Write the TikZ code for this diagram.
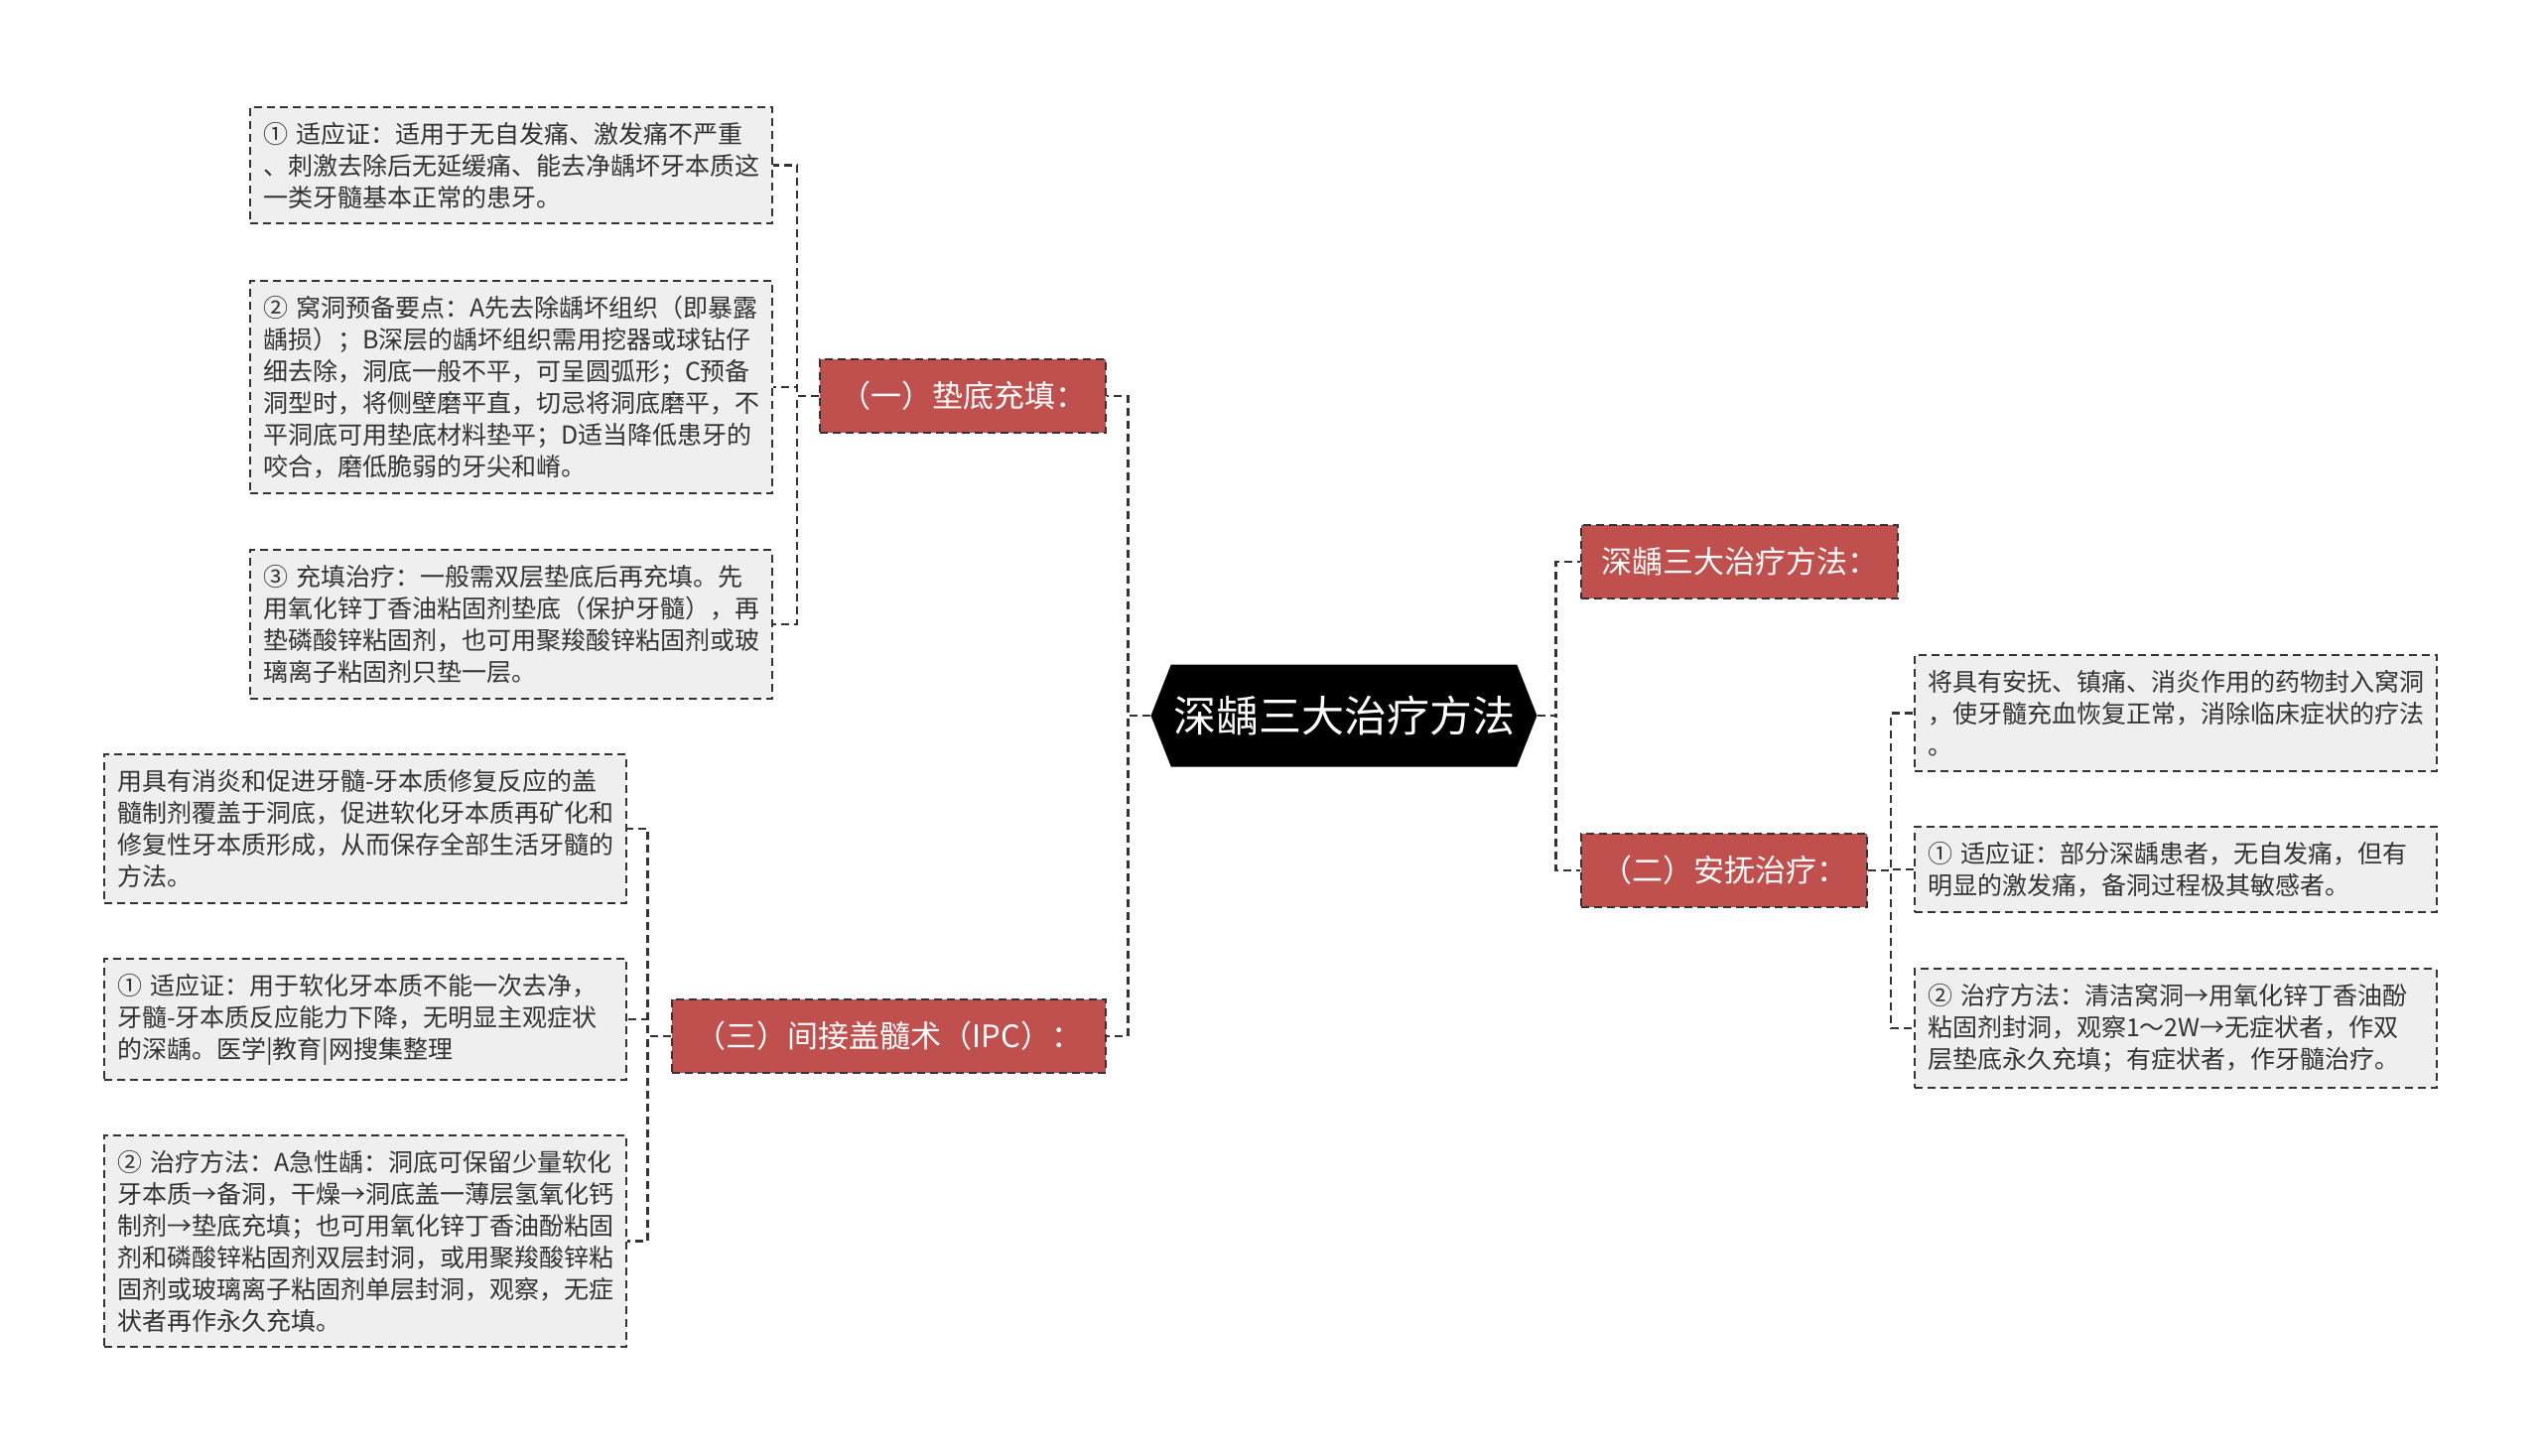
\documentclass[tikz,border=0pt]{standalone}
\usepackage{fontspec}
\setmainfont{Noto Sans CJK SC}
\usetikzlibrary{shapes.symbols}
\definecolor{topicred}{HTML}{C0504D}
\definecolor{leafgray}{HTML}{EFEFEF}
\definecolor{inkgray}{HTML}{333333}
\begin{document}
\begin{tikzpicture}[x=1pt, y=-1pt,
  leaf/.style={draw=inkgray, fill=leafgray, line width=2pt, dash pattern=on 8pt off 5pt,
    text=inkgray, align=left, text width=500pt, inner xsep=13pt, inner ysep=15pt,
    font=\fontsize{25}{32}\selectfont},
  topic/.style={draw=inkgray, fill=topicred, line width=2pt, dash pattern=on 8pt off 5pt,
    text=white, minimum height=74pt, inner xsep=20pt, font=\fontsize{31}{36}\selectfont},
  link/.style={inkgray, line width=2.5pt, dash pattern=on 8pt off 5pt}]
\useasboundingbox (0,0) rectangle (2560,1467);
% centre
\node[signal, signal to=east and west, signal pointer angle=137, fill=black, text=white,
  minimum width=389pt, minimum height=103pt, inner sep=2pt,
  font=\fontsize{43}{50}\selectfont] (root) at (1354,721) {深龋三大治疗方法};
% left: (一) and (三)
\node[topic, anchor=east] (fill) at (1115,399) {（一）垫底充填：};
\node[topic, anchor=east, inner xsep=24pt] (ipc) at (1115,1044) {（三）间接盖髓术（IPC）：};
% right: heading and (二)
\node[topic, anchor=west] (head) at (1592,566) {深龋三大治疗方法：};
\node[topic, anchor=west] (calm) at (1592,877) {（二）安抚治疗：};
% leaves of (一)
\node[leaf, anchor=east] (fill1) at (779,166.5)
  {①~适应证：适用于无自发痛、激发痛不严重\\、刺激去除后无延缓痛、能去净龋坏牙本质这\\一类牙髓基本正常的患牙。};
\node[leaf, anchor=east] (fill2) at (779,390)
  {②~窝洞预备要点：A先去除龋坏组织（即暴露\\龋损）；B深层的龋坏组织需用挖器或球钻仔\\细去除，洞底一般不平，可呈圆弧形；C预备\\洞型时，将侧壁磨平直，切忌将洞底磨平，不\\平洞底可用垫底材料垫平；D适当降低患牙的\\咬合，磨低脆弱的牙尖和嵴。};
\node[leaf, anchor=east] (fill3) at (779,629)
  {③~充填治疗：一般需双层垫底后再充填。先\\用氧化锌丁香油粘固剂垫底（保护牙髓），再\\垫磷酸锌粘固剂，也可用聚羧酸锌粘固剂或玻\\璃离子粘固剂只垫一层。};
% leaves of (三)
\node[leaf, anchor=east] (ipc1) at (632,835)
  {用具有消炎和促进牙髓-牙本质修复反应的盖\\髓制剂覆盖于洞底，促进软化牙本质再矿化和\\修复性牙本质形成，从而保存全部生活牙髓的\\方法。};
\node[leaf, anchor=east] (ipc2) at (632,1027)
  {①~适应证：用于软化牙本质不能一次去净，\\牙髓-牙本质反应能力下降，无明显主观症状\\的深龋。医学|教育|网搜集整理};
\node[leaf, anchor=east] (ipc3) at (632,1250.5)
  {②~治疗方法：A急性龋：洞底可保留少量软化\\牙本质→备洞，干燥→洞底盖一薄层氢氧化钙\\制剂→垫底充填；也可用氧化锌丁香油酚粘固\\剂和磷酸锌粘固剂双层封洞，或用聚羧酸锌粘\\固剂或玻璃离子粘固剂单层封洞，观察，无症\\状者再作永久充填。};
% leaves of (二)
\node[leaf, anchor=west] (calm1) at (1928,718.5)
  {将具有安抚、镇痛、消炎作用的药物封入窝洞\\，使牙髓充血恢复正常，消除临床症状的疗法\\。};
\node[leaf, anchor=west] (calm2) at (1928,876)
  {①~适应证：部分深龋患者，无自发痛，但有\\明显的激发痛，备洞过程极其敏感者。};
\node[leaf, anchor=west] (calm3) at (1928,1036)
  {②~治疗方法：清洁窝洞→用氧化锌丁香油酚\\粘固剂封洞，观察1～2W→无症状者，作双\\层垫底永久充填；有症状者，作牙髓治疗。};
% connectors
\foreach \n in {fill,ipc} \draw[link] (root.west) -- ++(-23,0) |- (\n.east);
\foreach \n in {head,calm} \draw[link] (root.east) -- ++(19,0) |- (\n.west);
\foreach \n in {fill1,fill2,fill3} \draw[link] (fill.west) -- ++(-22,0) |- (\n.east);
\foreach \n in {ipc1,ipc2,ipc3} \draw[link] (ipc.west) -- ++(-23,0) |- (\n.east);
\foreach \n in {calm1,calm2,calm3} \draw[link] (calm.east) -- ++(23,0) |- (\n.west);
\end{tikzpicture}
\end{document}
